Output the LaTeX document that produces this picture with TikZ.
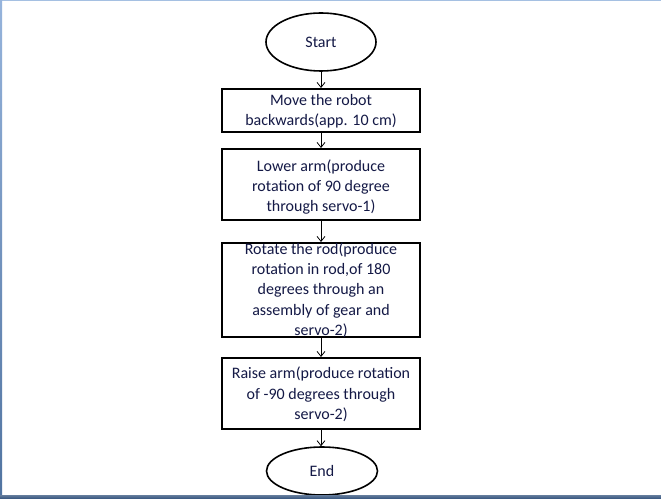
\documentclass[tikz,border=0pt]{standalone}
\usepackage{fontspec}
\setmainfont{Carlito}
\usetikzlibrary{shapes.geometric,arrows.meta}
\definecolor{txt}{RGB}{20,25,70}
\definecolor{topb}{RGB}{165,192,226}
\definecolor{leftbt}{RGB}{150,180,220}
\definecolor{leftbb}{RGB}{80,115,160}
\definecolor{botb}{RGB}{62,92,132}
\begin{document}
\begin{tikzpicture}[x=1pt,y=1pt,
  term/.style={ellipse,draw,line width=1.6pt,minimum width=110pt,minimum height=58pt,inner sep=0pt},
  stepbox/.style={rectangle,draw,line width=2pt,minimum width=198pt,inner sep=0pt},
  lbl/.style={text=txt,font=\fontsize{16}{20.3}\selectfont,align=center,inner sep=0pt},
  flow/.style={draw,line width=0.8pt,-{Straight Barb[length=5pt,width=8pt]}}]
\useasboundingbox (0,0) rectangle (661,498);
\fill[white] (0,0) rectangle (661,498);
% shapes
\node[term] (start) at (321,456) {};
\node[lbl] (tstart) at (start) {Start};
\node[stepbox,minimum height=43pt] (b1) at (321,387.5) {};
\node[lbl] (t1) at (321,387) {Move the robot\\backwards(app. 10 cm)};
\node[stepbox,minimum height=71pt] (b2) at (321,313.5) {};
\node[lbl] (t2) at (321,311) {Lower arm(produce\\rotation of 90 degree\\through servo-1)};
\node[stepbox,minimum height=94pt] (b3) at (321,208) {};
\node[lbl] (t3) at (321,208) {Rotate the rod(produce\\rotation in rod,of 180\\degrees through an\\assembly of gear and\\servo-2)};
\node[stepbox,minimum height=71pt] (b4) at (321,104.5) {};
\node[lbl] (t4) at (321,103.5) {Raise arm(produce rotation\\of -90 degrees through\\servo-2)};
\node[term,minimum width=111pt,minimum height=48pt] (end) at (322,27) {};
\node[lbl] (tend) at (end) {End};
% connectors
\draw[flow] (start.south) -- (b1.north);
\draw[flow] (b1.south) -- (b2.north);
\draw[flow] (b2.south) -- (b3.north);
\draw[flow] (b3.south) -- (b4.north);
\draw[flow] (b4.south) -- (end.north -| b4.south);
% window frame
\fill[topb] (0,497) rectangle (661,498);
\shade[top color=leftbt,bottom color=leftbb] (0,0) rectangle (2,498);
\shade[top color=botb!80,bottom color=botb] (0,0) rectangle (661,3);
\end{tikzpicture}
\end{document}
